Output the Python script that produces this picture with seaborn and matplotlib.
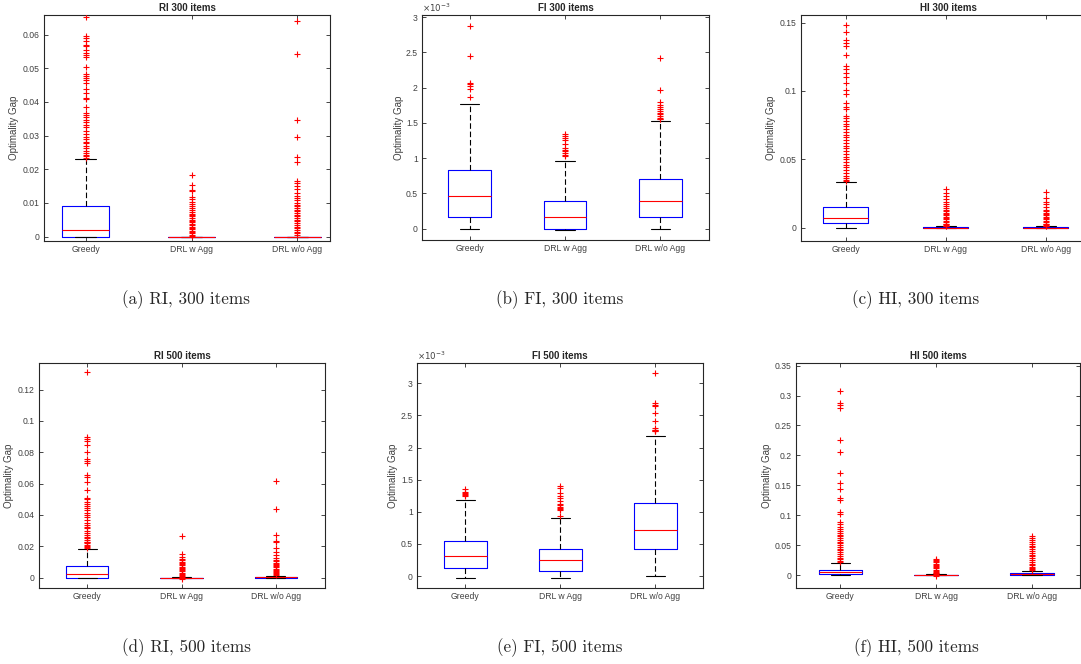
import numpy as np
import pandas as pd
import seaborn as sns
import matplotlib.pyplot as plt
from matplotlib.ticker import MultipleLocator, FuncFormatter

methods = ['Greedy', 'DRL w Agg', 'DRL w/o Agg']

# box stats per method: [whisker low, q1, median, q3, whisker high]
# RI, 300 items
ri300_greedy_box = [0, 0, 0.002, 0.0091, 0.023]
ri300_drlw_box = [0, 0, 0, 0, 0]
ri300_drlwo_box = [0, 0, 0, 0, 0]
ri300_greedy_out = [0.0652, 0.0597, 0.0590, 0.0582, 0.0568, 0.0565, 0.0553, 0.0545, 0.0538, 0.0532,
                    0.0505, 0.0483, 0.0476, 0.0470, 0.0465, 0.0455, 0.0438, 0.0425, 0.0412, 0.0408,
                    0.0384, 0.0368, 0.0362, 0.0355, 0.0345, 0.0340, 0.0330, 0.0325, 0.0315, 0.0305,
                    0.0297, 0.0290, 0.0282, 0.0278, 0.0270, 0.0262, 0.0255, 0.0248, 0.0242, 0.0238, 0.0233]
ri300_drlw_out = [0.0183, 0.0154, 0.0139, 0.0136, 0.0118, 0.0112, 0.0103, 0.0098, 0.0090, 0.0085,
                  0.0078, 0.0072, 0.0068, 0.0064, 0.0060, 0.0055, 0.0050, 0.0046, 0.0042, 0.0038,
                  0.0034, 0.0030, 0.0026, 0.0022, 0.0018, 0.0014, 0.0010, 0.0006, 0.0003]
ri300_drlwo_out = [0.0640, 0.0543, 0.0346, 0.0295, 0.0236, 0.0222, 0.0166, 0.0160, 0.0150, 0.0140,
                   0.0130, 0.0122, 0.0115, 0.0108, 0.0100, 0.0095, 0.0090, 0.0085, 0.0080, 0.0075,
                   0.0070, 0.0065, 0.0060, 0.0055, 0.0050, 0.0045, 0.0040, 0.0035, 0.0030, 0.0025,
                   0.0020, 0.0015, 0.0010, 0.0005]

# FI, 300 items (x 1e-3)
fi300_greedy_box = [0, 0.16, 0.467, 0.835, 1.77]
fi300_drlw_box = [-0.02, 0, 0.17, 0.396, 0.958]
fi300_drlwo_box = [0, 0.16, 0.396, 0.708, 1.524]
fi300_greedy_out = [2.88, 2.45, 2.07, 2.05, 2.03, 1.98, 1.87]
fi300_drlw_out = [1.34, 1.31, 1.28, 1.26, 1.20, 1.14, 1.12, 1.10, 1.07, 1.05, 1.03]
fi300_drlwo_out = [2.42, 1.96, 1.79, 1.76, 1.73, 1.70, 1.67, 1.64, 1.62, 1.60, 1.57, 1.56, 1.55]

# HI, 300 items
hi300_greedy_box = [0, 0.0034, 0.0073, 0.0154, 0.0334]
hi300_drlw_box = [0, 0, 0, 0.0004, 0.0009]
hi300_drlwo_box = [0, 0, 0, 0.0004, 0.0009]
hi300_greedy_out = [0.148, 0.143, 0.137, 0.135, 0.133, 0.126, 0.118, 0.116, 0.113, 0.110,
                    0.106, 0.101, 0.098, 0.091, 0.088, 0.087, 0.082, 0.080, 0.078, 0.076,
                    0.074, 0.072, 0.070, 0.068, 0.066, 0.064, 0.062, 0.060, 0.058, 0.056,
                    0.054, 0.052, 0.050, 0.048, 0.046, 0.044, 0.042, 0.040, 0.038, 0.036, 0.035, 0.034]
hi300_drlw_out = [0.028, 0.025, 0.023, 0.021, 0.019, 0.017, 0.0155, 0.014, 0.013, 0.012, 0.011, 0.010,
                  0.009, 0.008, 0.007, 0.006, 0.005, 0.004, 0.003, 0.0025, 0.002, 0.0015, 0.001]
hi300_drlwo_out = [0.026, 0.022, 0.019, 0.017, 0.015, 0.013, 0.012, 0.011, 0.010, 0.009,
                   0.008, 0.007, 0.006, 0.005, 0.004, 0.003, 0.0025, 0.002, 0.0015, 0.001]

# RI, 500 items
ri500_greedy_box = [0, 0, 0.0023, 0.0072, 0.0182]
ri500_drlw_box = [0, 0, 0, 0, 0.0002]
ri500_drlwo_box = [0, 0, 0.0002, 0.0005, 0.0012]
ri500_greedy_out = [0.131, 0.0895, 0.0885, 0.0875, 0.0845, 0.0800, 0.0755, 0.0745, 0.0730, 0.0655,
                    0.0645, 0.0610, 0.0560, 0.0510, 0.0500, 0.0485, 0.0470, 0.0460, 0.0445, 0.0430,
                    0.0415, 0.0400, 0.0385, 0.0370, 0.0350, 0.0335, 0.0325, 0.0315, 0.0300, 0.0285,
                    0.0270, 0.0260, 0.0250, 0.0240, 0.0230, 0.0225, 0.0220, 0.0210, 0.0200, 0.0195, 0.0190]
ri500_drlw_out = [0.0265, 0.0150, 0.0135, 0.0120, 0.0110, 0.0100, 0.0092, 0.0085, 0.0078, 0.0070,
                  0.0062, 0.0055, 0.0048, 0.0040, 0.0032, 0.0025, 0.0018, 0.0010, 0.0005, -0.0010]
ri500_drlwo_out = [0.0617, 0.0438, 0.0275, 0.0235, 0.0225, 0.0190, 0.0165, 0.0145, 0.0125, 0.0112,
                   0.0105, 0.0095, 0.0088, 0.0080, 0.0072, 0.0065, 0.0058, 0.0050, 0.0043, 0.0036,
                   0.0030, 0.0024, 0.0018]

# FI, 500 items (x 1e-3)
fi500_greedy_box = [-0.031, 0.119, 0.316, 0.548, 1.18]
fi500_drlw_box = [-0.031, 0.083, 0.243, 0.414, 0.90]
fi500_drlwo_box = [0, 0.419, 0.709, 1.133, 2.173]
fi500_greedy_out = [1.36, 1.31, 1.29, 1.27, 1.26, 1.25]
fi500_drlw_out = [1.40, 1.37, 1.29, 1.25, 1.21, 1.17, 1.12, 1.11, 1.07, 1.06, 1.04, 1.03, 0.94]
fi500_drlwo_out = [3.16, 2.69, 2.66, 2.64, 2.53, 2.41, 2.30, 2.28, 2.27, 2.26, 2.25]

# HI, 500 items
hi500_greedy_box = [0, 0.0017, 0.005, 0.0089, 0.0194]
hi500_drlw_box = [0, 0, 0, 0.0005, 0.0015]
hi500_drlwo_box = [0, 0, 0.001, 0.003, 0.0072]
hi500_greedy_out = [0.307, 0.288, 0.285, 0.280, 0.226, 0.206, 0.171, 0.154, 0.143, 0.128,
                    0.126, 0.106, 0.102, 0.088, 0.085, 0.080, 0.077, 0.074, 0.070, 0.067,
                    0.065, 0.062, 0.059, 0.056, 0.053, 0.050, 0.047, 0.044, 0.041, 0.038,
                    0.035, 0.032, 0.029, 0.026, 0.023, 0.021]
hi500_drlw_out = [0.027, 0.025, 0.023, 0.021, 0.019, 0.017, 0.015, 0.013, 0.011, 0.009,
                  0.007, 0.005, 0.004, 0.003, 0.002, -0.002]
hi500_drlwo_out = [0.065, 0.062, 0.058, 0.055, 0.052, 0.049, 0.046, 0.043, 0.040, 0.037,
                   0.034, 0.031, 0.028, 0.025, 0.022, 0.019, 0.016, 0.014, 0.012, 0.010, 0.008]

titles = ['RI 300 items', 'FI 300 items', 'HI 300 items', 'RI 500 items', 'FI 500 items', 'HI 500 items']
captions = ['(a) RI, 300 items', '(b) FI, 300 items', '(c) HI, 300 items',
            '(d) RI, 500 items', '(e) FI, 500 items', '(f) HI, 500 items']

sns.set_style('white')
plt.rcParams['font.family'] = ['Liberation Sans', 'DejaVu Sans']

W, H = 1081, 664
fig = plt.figure(figsize=(W / 100, H / 100), dpi=100)

# pixel boxes: left, top, right, bottom
boxes_px = [(44, 15, 330, 241), (422, 15, 709, 240), (801, 15, 1096, 241),
            (39, 363, 325, 588), (417, 363, 703, 588), (796, 363, 1080, 588)]
xlims = [(-0.392, 2.307), (-0.5, 2.51), (-0.447, 2.5),
         (-0.51, 2.52), (-0.51, 2.5), (-0.46, 2.5)]
ylims = [(-0.0013, 0.0658), (-0.16, 3.03), (-0.0098, 0.1556),
         (-0.0066, 0.137), (-0.186, 3.316), (-0.0217, 0.3544)]
ysteps = [0.01, 0.5, 0.05, 0.02, 0.5, 0.05]
ylab_px = [24.5, 18.5, 24.5, 24.5, 19.5, 24.5]
sci = [False, True, False, False, True, False]
cap_x = [186, 560, 916, 186, 560, 916]

panel_boxes = [
    [ri300_greedy_box, ri300_drlw_box, ri300_drlwo_box],
    [fi300_greedy_box, fi300_drlw_box, fi300_drlwo_box],
    [hi300_greedy_box, hi300_drlw_box, hi300_drlwo_box],
    [ri500_greedy_box, ri500_drlw_box, ri500_drlwo_box],
    [fi500_greedy_box, fi500_drlw_box, fi500_drlwo_box],
    [hi500_greedy_box, hi500_drlw_box, hi500_drlwo_box],
]
panel_outs = [
    [ri300_greedy_out, ri300_drlw_out, ri300_drlwo_out],
    [fi300_greedy_out, fi300_drlw_out, fi300_drlwo_out],
    [hi300_greedy_out, hi300_drlw_out, hi300_drlwo_out],
    [ri500_greedy_out, ri500_drlw_out, ri500_drlwo_out],
    [fi500_greedy_out, fi500_drlw_out, fi500_drlwo_out],
    [hi500_greedy_out, hi500_drlw_out, hi500_drlwo_out],
]

tick_col = '#404040'
for i in range(6):
    l, t, r, b = boxes_px[i]
    ax = fig.add_axes([l / W, 1 - b / H, (r - l) / W, (b - t) / H])

    box_df = pd.DataFrame({'method': np.repeat(methods, 5),
                           'gap': np.concatenate(panel_boxes[i])})
    outs = panel_outs[i]
    out_df = pd.DataFrame({'method': np.repeat(methods, [len(o) for o in outs]),
                           'gap': np.concatenate(outs)})

    sns.boxplot(data=box_df, x='method', y='gap', order=methods, whis=(0, 100),
                width=0.45, fill=False, linewidth=0.8, ax=ax,
                boxprops=dict(color='blue'),
                medianprops=dict(color='red'),
                whiskerprops=dict(color='black', linestyle=(0, (5, 2.5))),
                capprops=dict(color='black'),
                capwidths=0.2)
    sns.stripplot(data=out_df, x='method', y='gap', order=methods, jitter=False,
                  marker='+', color='red', size=5, linewidth=0.8, ax=ax, zorder=3)

    ax.set_xlim(*xlims[i])
    ax.set_ylim(*ylims[i])
    ax.yaxis.set_major_locator(MultipleLocator(ysteps[i]))
    ax.yaxis.set_major_formatter(FuncFormatter(lambda v, p: '%g' % round(v, 6)))
    ax.set_xlabel('')
    ax.set_ylabel('Optimality Gap', fontsize=7, color=tick_col)
    ax.yaxis.set_label_coords(-ylab_px[i] / (r - l), 0.5)
    ax.set_title(titles[i], fontsize=7, fontweight='bold', pad=3)
    ax.tick_params(direction='in', length=3, width=0.6, labelsize=6.2,
                   colors='#262626', labelcolor=tick_col,
                   top=True, right=True, bottom=True, left=True, pad=3)
    for s in ax.spines.values():
        s.set_color('#262626')
        s.set_linewidth(0.8)
    if sci[i]:
        ax.text(0.0, 1.005, r'$\times10^{-3}$', transform=ax.transAxes,
                fontsize=6.2, color=tick_col, ha='left', va='bottom')

    cy = 300 if i < 3 else 648
    fig.text(cap_x[i] / W, 1 - cy / H, captions[i], ha='center', va='center',
             fontsize=12.3, family='cmr10')

fig.savefig('out.png', dpi=100)
